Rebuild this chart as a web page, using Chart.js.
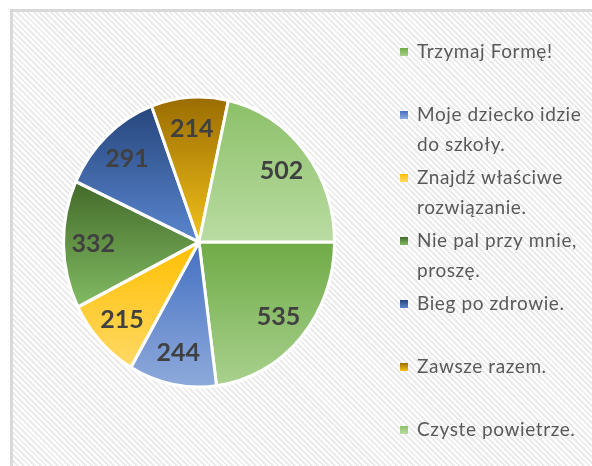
<!DOCTYPE html>
<html>
<head>
<meta charset="utf-8">
<script src="https://cdn.jsdelivr.net/npm/chart.js@4.4.0/dist/chart.umd.min.js"></script>
<style>
  html, body { margin: 0; padding: 0; background: #fff; overflow: hidden; }
  #wrap { position: relative; width: 592px; height: 466px; }
  #frame {
    position: absolute; left: 10px; top: 9px; width: 600px; height: 470px;
    border-left: 3px solid #d9d9d9; border-top: 3px solid #d9d9d9;
    background: repeating-linear-gradient(45deg, #ffffff 0 2px, #ebebeb 2px 4px);
  }
  #chart { position: absolute; left: 0; top: 0; }
</style>
</head>
<body>
<div id="wrap">
  <div id="frame"></div>
  <canvas id="chart" width="592" height="466"></canvas>
</div>
<script>
// Data
const categories = [
    ['Trzymaj Formę!'],
    ['Moje dziecko idzie', 'do szkoły.'],
    ['Znajdź właściwe', 'rozwiązanie.'],
    ['Nie pal przy mnie,', 'proszę.'],
    ['Bieg po zdrowie.'],
    ['Zawsze razem.'],
    ['Czyste powietrze.']
];
const values = [535, 244, 215, 332, 291, 214, 502];

// gradient colours per slice: top -> bottom
const topColors = ['#6fab46', '#4470c2', '#ffbf00', '#436a2a', '#27467c', '#9a6c00', '#8cc068'];
const bottomColors = ['#a9d18e', '#8eaadb', '#ffd966', '#82bb63', '#5a86cf', '#f3c21c', '#badca3'];

const Y_STRETCH = 1.071;

function sliceYRange(arc) {
    const r = arc.outerRadius;
    let a0 = arc.startAngle, a1 = arc.endAngle;
    const ys = [arc.y + Math.sin(a0) * r, arc.y + Math.sin(a1) * r, arc.y];
    for (let k = -4; k <= 8; k++) {
        const a = Math.PI / 2 * k;
        if (a > a0 && a < a1) ys.push(arc.y + Math.sin(a) * r);
    }
    return [Math.min(...ys), Math.max(...ys)];
}

const slicePaint = {
    id: 'slicePaint',
    beforeDatasetsDraw(chart) {
        const ctx = chart.ctx;
        const meta = chart.getDatasetMeta(0);
        meta.data.forEach((arc, i) => {
            const [y0, y1] = sliceYRange(arc);
            const g = ctx.createLinearGradient(0, y0, 0, y1);
            g.addColorStop(0, topColors[i]);
            g.addColorStop(1, bottomColors[i]);
            arc.options.backgroundColor = g;
        });
        const a = meta.data[0];
        ctx.save();
        ctx.translate(a.x, a.y);
        ctx.scale(1, Y_STRETCH);
        ctx.translate(-a.x, -a.y);
    },
    afterDatasetsDraw(chart) {
        const ctx = chart.ctx;
        ctx.restore();
        const meta = chart.getDatasetMeta(0);

        // value labels
        ctx.save();
        ctx.font = 'bold 25px Lato';
        ctx.fillStyle = '#404040';
        ctx.textAlign = 'center';
        ctx.textBaseline = 'middle';
        meta.data.forEach((arc, i) => {
            const mid = (arc.startAngle + arc.endAngle) / 2;
            const r = arc.outerRadius * 0.78;
            const x = arc.x + Math.cos(mid) * r;
            const y = arc.y + Math.sin(mid) * r * Y_STRETCH;
            ctx.fillText(values[i], x, y);
        });

        // legend
        ctx.font = '19px Lato';
        ctx.letterSpacing = '0.6px';
        ctx.textAlign = 'left';
        categories.forEach((lines, i) => {
            const y = 52 + 63 * i;
            const g = ctx.createLinearGradient(0, y - 4, 0, y + 4);
            g.addColorStop(0, topColors[i]);
            g.addColorStop(1, bottomColors[i]);
            ctx.fillStyle = g;
            ctx.fillRect(400, y - 4, 8, 8);
            ctx.fillStyle = '#595959';
            lines.forEach((t, j) => ctx.fillText(t, 417, y + j * 30));
        });
        ctx.restore();
    }
};

const ctx = document.getElementById('chart').getContext('2d');
new Chart(ctx, {
    type: 'pie',
    data: {
        labels: categories,
        datasets: [{
            data: values,
            backgroundColor: topColors,
            borderColor: '#ffffff',
            borderWidth: 3
        }]
    },
    options: {
        responsive: false,
        animation: false,
        rotation: 90,
        layout: { padding: { left: 62, right: 256, top: 105, bottom: 87 } },
        plugins: {
            legend: { display: false },
            tooltip: { enabled: false }
        }
    },
    plugins: [slicePaint]
});
</script>
</body>
</html>
